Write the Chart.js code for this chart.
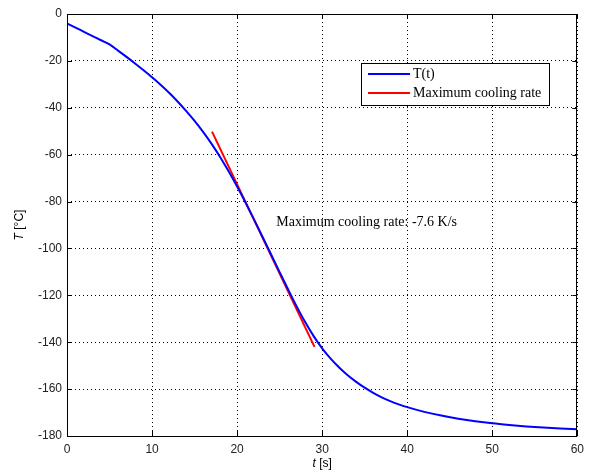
<!DOCTYPE html>
<html>
<head>
<meta charset="utf-8">
<script src="https://cdn.jsdelivr.net/npm/chart.js@4"></script>
<style>
  html, body { margin: 0; padding: 0; background: #fff; }
  #wrap { width: 590px; height: 473px; position: relative; }
</style>
</head>
<body>
<div id="wrap"><canvas id="c"></canvas></div>
<script>
// ===== DATA =====
const timeS = [0,1,2,3,4,5,6,7,8,9,10,11,12,13,14,15,16,17,18,19,20,21,22,23,24,25,26,27,28,29,30,31,32,33,34,35,36,37,38,39,40,42,44,46,48,50,52,54,56,58,60];
const tempC = [-4,-5.8,-7.6,-9.4,-11.2,-13,-15.6,-18.3,-21.1,-24,-27,-30.2,-33.6,-37.3,-41.3,-45.6,-50.3,-55.4,-61,-67.1,-73.6,-80.5,-87.7,-95.1,-102.6,-110.1,-117.5,-124.7,-131.4,-137.4,-142.6,-147,-150.8,-154.1,-156.9,-159.4,-161.6,-163.5,-165.1,-166.5,-167.7,-169.7,-171.3,-172.6,-173.7,-174.6,-175.3,-175.9,-176.4,-176.8,-177.1];
const rateT = [17.05, 29.1];
const rateY = [-50.2, -142];
const xTicks = [0, 10, 20, 30, 40, 50, 60];
const yTicks = [0, -20, -40, -60, -80, -100, -120, -140, -160, -180];
const seriesNames = ["T(t)", "Maximum cooling rate"];
const noteText = "Maximum cooling rate: -7.6 K/s";
const notePos = [24.6, -88.7];

const sansFont = "Liberation Sans, Arial, sans-serif";
const serifFont = "Liberation Serif, Times New Roman, serif";

// inward ticks, box, legend, note and axis titles (matlab look)
const matlabBits = {
  id: "matlabBits",
  afterDraw(chart) {
    const { ctx, chartArea: a, scales: { x, y } } = chart;
    ctx.save();
    ctx.strokeStyle = "#000";
    ctx.lineWidth = 1;
    ctx.beginPath();
    xTicks.forEach(v => {
      const px = Math.round(x.getPixelForValue(v)) + 0.5;
      ctx.moveTo(px, a.bottom); ctx.lineTo(px, a.bottom - 5);
      ctx.moveTo(px, a.top); ctx.lineTo(px, a.top + 5);
    });
    yTicks.forEach(v => {
      const py = Math.round(y.getPixelForValue(v)) + 0.5;
      ctx.moveTo(a.left, py); ctx.lineTo(a.left + 5, py);
      ctx.moveTo(a.right, py); ctx.lineTo(a.right - 5, py);
    });
    ctx.stroke();
    ctx.strokeRect(Math.round(a.left) + 0.5, Math.round(a.top) + 0.5,
      Math.round(a.right - a.left) - 1, Math.round(a.bottom - a.top));

    // legend
    const lx = 361, ly = 63, lw = 188, lh = 42;
    ctx.fillStyle = "#fff";
    ctx.fillRect(lx, ly, lw, lh);
    ctx.strokeRect(lx + 0.5, ly + 0.5, lw, lh);
    const cols = ["#0000ff", "#ff0000"];
    ctx.font = "14px " + serifFont;
    ctx.textBaseline = "middle";
    ctx.textAlign = "left";
    seriesNames.forEach((n, i) => {
      const yy = ly + 11 + i * 19;
      ctx.strokeStyle = cols[i];
      ctx.lineWidth = 2;
      ctx.beginPath(); ctx.moveTo(lx + 7, yy); ctx.lineTo(lx + 49, yy); ctx.stroke();
      ctx.fillStyle = "#000";
      ctx.fillText(n, lx + 52, yy);
    });

    // note
    ctx.font = "14px " + serifFont;
    ctx.fillStyle = "#000";
    ctx.fillText(noteText, x.getPixelForValue(notePos[0]), y.getPixelForValue(notePos[1]));

    // axis titles, italic variable name
    const xt1 = "t", xt2 = " [s]";
    ctx.font = "italic 12px " + sansFont;
    const w1 = ctx.measureText(xt1).width;
    ctx.font = "12px " + sansFont;
    const w2 = ctx.measureText(xt2).width;
    let sx = (a.left + a.right) / 2 - (w1 + w2) / 2;
    ctx.font = "italic 12px " + sansFont;
    ctx.fillText(xt1, sx, 464);
    ctx.font = "12px " + sansFont;
    ctx.fillText(xt2, sx + w1, 464);

    ctx.translate(20, (a.top + a.bottom) / 2);
    ctx.rotate(-Math.PI / 2);
    const yt1 = "T", yt2 = " [°C]";
    ctx.font = "italic 12px " + sansFont;
    const v1 = ctx.measureText(yt1).width;
    ctx.font = "12px " + sansFont;
    const v2 = ctx.measureText(yt2).width;
    sx = -(v1 + v2) / 2;
    ctx.font = "italic 12px " + sansFont;
    ctx.fillText(yt1, sx, 0);
    ctx.font = "12px " + sansFont;
    ctx.fillText(yt2, sx + v1, 0);
    ctx.restore();
  }
};

new Chart(document.getElementById("c"), {
  type: "line",
  data: {
    datasets: [
      {
        label: seriesNames[0],
        data: timeS.map((t, i) => ({ x: t, y: tempC[i] })),
        borderColor: "#0000ff",
        borderWidth: 2,
        pointRadius: 0,
        cubicInterpolationMode: "monotone"
      },
      {
        label: seriesNames[1],
        data: rateT.map((t, i) => ({ x: t, y: rateY[i] })),
        borderColor: "#ff0000",
        borderWidth: 2,
        pointRadius: 0
      }
    ]
  },
  options: {
    responsive: true,
    maintainAspectRatio: false,
    animation: false,
    layout: { padding: { left: 0, right: 11, top: 14, bottom: 0 } },
    plugins: {
      legend: { display: false },
      tooltip: { enabled: false }
    },
    scales: {
      x: {
        type: "linear",
        min: 0, max: 60,
        afterFit: s => { s.height = 37; },
        afterBuildTicks: s => { s.ticks = xTicks.map(v => ({ value: v })); },
        border: { display: false, dash: [1, 3] },
        grid: { color: "#000", lineWidth: 1, drawTicks: false },
        ticks: {
          padding: 6,
          maxRotation: 0,
          color: "#222",
          font: { family: sansFont, size: 12 }
        }
      },
      y: {
        min: -180, max: 0,
        afterFit: s => { s.width = 67; },
        afterBuildTicks: s => { s.ticks = yTicks.map(v => ({ value: v })); },
        border: { display: false, dash: [1, 3] },
        grid: { color: "#000", lineWidth: 1, drawTicks: false },
        ticks: {
          padding: 5,
          color: "#222",
          font: { family: sansFont, size: 12 }
        }
      }
    }
  },
  plugins: [matlabBits]
});
</script>
</body>
</html>
